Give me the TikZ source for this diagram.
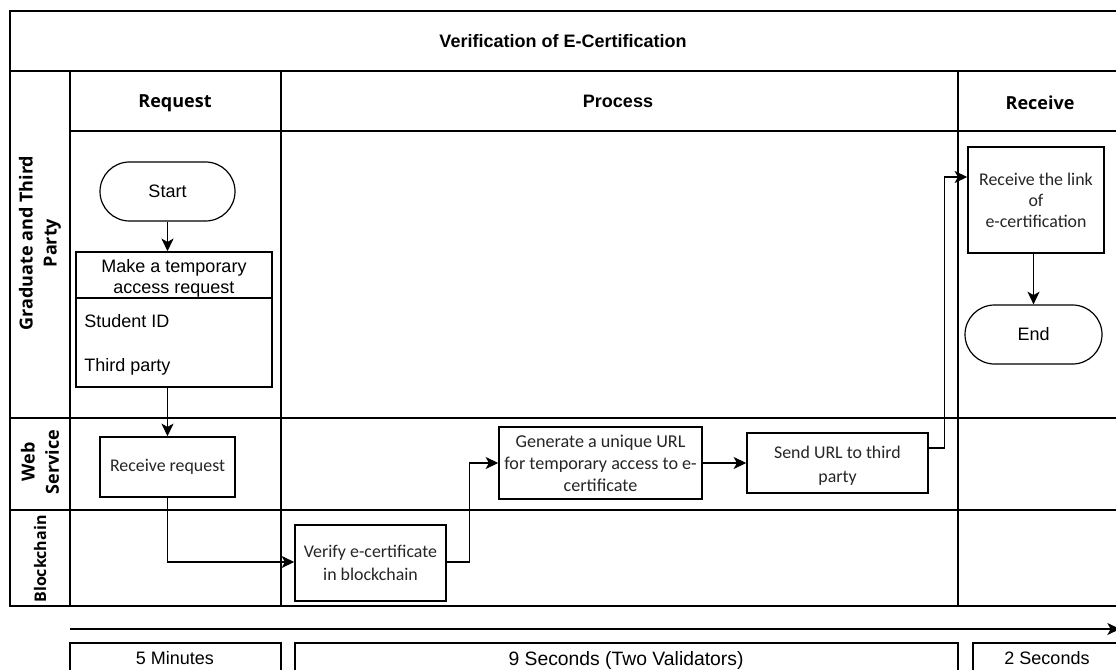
\documentclass[tikz,border=0pt]{standalone}
\usepackage{fontspec}
\setmainfont{Liberation Sans}
\newfontfamily\osans{Open Sans}
\newfontfamily\carl{Carlito}
\usetikzlibrary{arrows.meta,shapes.misc}
\begin{document}
\begin{tikzpicture}[x=0.75pt,y=-0.75pt,
  frame/.style={line width=1.2pt},
  box/.style={draw,line width=1.1pt,rectangle,align=center,inner sep=0pt,font=\carl\fontsize{13.4}{16}\selectfont,text=black!85},
  boxtext/.style={align=center,inner sep=0pt,font=\carl\fontsize{13.4}{18}\selectfont,text=black!85},
  term/.style={draw,line width=0.9pt,rounded rectangle,align=center,inner sep=0pt,font=\fontsize{13.5}{16}\selectfont},
  conn/.style={line width=1.1pt,-{Stealth[length=9.5pt,width=9pt,inset=2.5pt]}},
  hdr/.style={font=\osans\bfseries\fontsize{13.5}{16}\selectfont},
  lane/.style={font=\osans\bfseries\fontsize{13.5}{18}\selectfont,rotate=90,align=center},
  plain/.style={font=\fontsize{13.5}{16}\selectfont},
  tbox/.style={draw,line width=1.1pt}
]
\useasboundingbox (0,0) rectangle (1116,670);
\clip (0,0) rectangle (1116,670);
\fill[white] (0,0) rectangle (1116,670);

% frame
\draw[frame] (1140,11) -- (10,11) -- (10,606) -- (1140,606);
\draw[frame] (10,71) -- (1140,71);
\draw[frame] (70,71) -- (70,606);
\draw[frame] (70,131) -- (1140,131);
\draw[frame] (281,71) -- (281,606);
\draw[frame] (958,71) -- (958,606);
\draw[frame] (10,418) -- (1140,418);
\draw[frame] (10,510) -- (1140,510);

% titles
\node[font=\bfseries\fontsize{13.5}{16}\selectfont] (title) at (563,41) {Verification of E-Certification};
\node[hdr] (hreq) at (175,103) {Request};
\node[font=\bfseries\fontsize{13.5}{16}\selectfont] (hproc) at (618,101) {Process};
\node[hdr] (hrec) at (1040,103) {Receive};

% lane labels
\node[lane] (lgrad) at (40,243) {Graduate and Third\\Party};
\node[lane] (lweb) at (40,462) {Web\\Service};
\node[lane,font=\osans\bfseries\fontsize{12}{15}\selectfont] (lbc) at (40,559) {Blockchain};

% nodes
\node[term,minimum width=101.25pt,minimum height=44.25pt] (start) at (167.5,191.5) {Start};
\node[draw,line width=1.1pt,minimum width=147pt,minimum height=101.25pt,inner sep=0pt] (make) at (174,319.5) {};
\draw[line width=1.1pt] (76,298) -- (272,298);
\node[plain,align=center,font=\fontsize{13.5}{15.75}\selectfont] (maket) at (174,278.5) {Make a temporary\\access request};
\node[plain,anchor=west,inner sep=0pt] (sid) at (84,321) {Student ID};
\node[plain,anchor=west,inner sep=0pt] (tp) at (84,367) {Third party};

\node[box,minimum width=101.25pt,minimum height=45pt] (recv) at (167.5,467) {Receive request};
\node[box,minimum width=113.25pt,minimum height=57pt,font=\carl\fontsize{13.4}{17.25}\selectfont] (verify) at (370.5,563) {Verify e-certificate\\in blockchain};
\node[box,minimum width=152.25pt,minimum height=54pt,font=\carl\fontsize{13.6}{16.5}\selectfont] (gen) at (600.5,463) {Generate a unique URL\\for temporary access to e-\\certificate};
\node[box,minimum width=135.75pt,minimum height=45pt] (send) at (837.5,463) {};
\node[boxtext] (sendt) at (837.5,466) {Send URL to third\\party};
\node[box,minimum width=102pt,minimum height=79.5pt,font=\carl\fontsize{13.4}{15.75}\selectfont] (recl) at (1036,200) {Receive the link\\of\\e-certification};
\node[term,minimum width=102.75pt,minimum height=44.25pt] (end) at (1033.5,334.5) {End};

% connectors
\draw[conn] (start.south) -- (start.south |- make.north);
\draw[conn] (recv.north |- make.south) -- (recv.north);
\draw[conn] (recv.south) |- ([yshift=0.75pt]verify.west);
\draw[conn] ([yshift=0.75pt]verify.east) -- ++(23,0) |- (gen.west);
\draw[conn] (gen.east) -- (send.west);
\draw[conn] ([yshift=11.25pt]send.east) -- ++(16,0) |- ([yshift=17.25pt]recl.west);
\draw[conn] (end.north |- recl.south) -- (end.north);

% timeline
\coordinate (t0) at (70,629);
\coordinate (t1) at (1120,629);
\draw[conn] (t0) -- (t1);
\draw[tbox] (70,643) rectangle (281,700);
\draw[tbox] (295,643) rectangle (958,700);
\draw[tbox] (973,643) rectangle (1140,700);
\node[plain] (d1) at (175,658) {5 Minutes};
\node[plain,font=\fontsize{14.5}{17}\selectfont] (d2) at (626,660) {9 Seconds (Two Validators)};
\node[plain] (d3) at (1047,658) {2 Seconds};
\end{tikzpicture}
\end{document}
